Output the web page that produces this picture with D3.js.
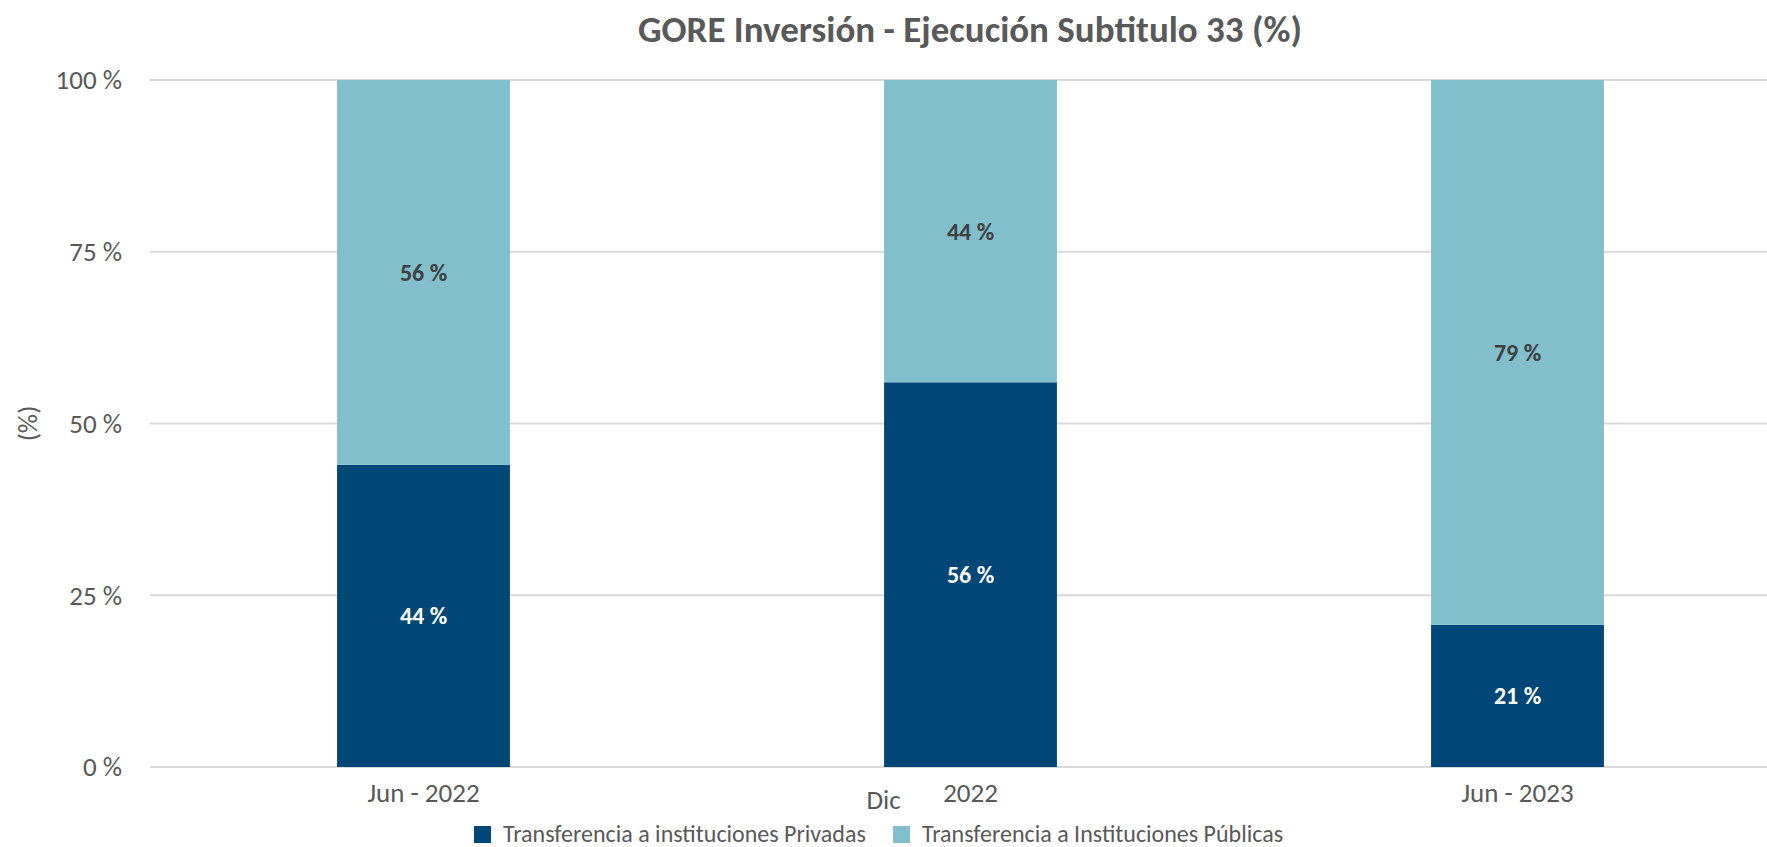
<!DOCTYPE html>
<html>
<head>
<meta charset="utf-8">
<script src="https://cdn.jsdelivr.net/npm/d3@7"></script>
<style>
  body { margin: 0; background: #fff; }
  svg { display: block; font-family: Carlito, "Open Sans", sans-serif; }
</style>
</head>
<body>
<div id="chart"></div>
<script>
// Data
const periods = ["Jun - 2022", "Dic 2022", "Jun - 2023"];
const privadas = [44, 56, 20.7];
const publicas = [56, 44, 79.3];
const seriesNames = ["Transferencia a instituciones Privadas", "Transferencia a Instituciones Públicas"];
const yTicks = [0, 25, 50, 75, 100];

// Dimensions
const width = 1767, height = 847;
const margin = { top: 80, left: 150, bottom: 80 };
const colors = ["#004677", "#81BFCC"];

const svg = d3.select("#chart")
    .append("svg")
    .attr("width", width)
    .attr("height", height);

// Scales
const x = d3.scaleBand().domain(periods).range([margin.left, 1791]).paddingInner(0.684).paddingOuter(0.342);
const y = d3.scaleLinear().domain([0, 100]).range([767, margin.top]);

// Grid lines
svg.append("g")
    .selectAll("line")
    .data(yTicks)
    .enter().append("line")
    .attr("x1", margin.left)
    .attr("x2", width)
    .attr("y1", d => y(d))
    .attr("y2", d => y(d))
    .attr("stroke", "#d9d9d9")
    .attr("stroke-width", 2);

// Y axis labels
svg.append("g")
    .selectAll("text")
    .data(yTicks)
    .enter().append("text")
    .attr("x", 122)
    .attr("y", d => y(d))
    .attr("dy", "0.35em")
    .attr("text-anchor", "end")
    .attr("fill", "#595959")
    .style("font-size", "27px")
    .text(d => d + " %");

svg.append("text")
    .attr("transform", "translate(37," + y(50) + ")rotate(-90)")
    .attr("text-anchor", "middle")
    .attr("fill", "#595959")
    .style("font-size", "27px")
    .text("(%)");

// Stacked bars
const stacked = periods.map((p, i) => ({ period: p, priv: privadas[i], pub: publicas[i] }));

const bars = svg.append("g").selectAll("g")
    .data(stacked)
    .enter().append("g");

bars.append("rect")
    .attr("x", d => x(d.period))
    .attr("width", x.bandwidth())
    .attr("y", d => y(d.priv))
    .attr("height", d => y(0) - y(d.priv))
    .attr("fill", colors[0]);

bars.append("rect")
    .attr("x", d => x(d.period))
    .attr("width", x.bandwidth())
    .attr("y", d => y(d.priv + d.pub))
    .attr("height", d => y(d.priv) - y(d.priv + d.pub))
    .attr("fill", colors[1]);

bars.append("text")
    .attr("x", d => x(d.period) + x.bandwidth() / 2)
    .attr("y", d => y(d.priv / 2))
    .attr("dy", "0.35em")
    .attr("text-anchor", "middle")
    .attr("fill", "#ffffff")
    .style("font-size", "24px")
    .style("font-weight", "bold")
    .text(d => Math.round(d.priv) + " %");

bars.append("text")
    .attr("x", d => x(d.period) + x.bandwidth() / 2)
    .attr("y", d => y(d.priv + d.pub / 2))
    .attr("dy", "0.35em")
    .attr("text-anchor", "middle")
    .attr("fill", "#404040")
    .style("font-size", "24px")
    .style("font-weight", "bold")
    .text(d => Math.round(d.pub) + " %");

// X axis labels (the middle one wraps oddly in the original)
svg.append("g")
    .selectAll("text")
    .data(periods)
    .enter().append("text")
    .attr("x", d => x(d) + x.bandwidth() / 2)
    .attr("y", 802)
    .attr("text-anchor", "middle")
    .attr("fill", "#595959")
    .style("font-size", "27px")
    .text(d => d === "Dic 2022" ? "2022" : d);

svg.append("text")
    .attr("x", x("Dic 2022") + x.bandwidth() / 2 - 87)
    .attr("y", 809)
    .attr("text-anchor", "middle")
    .attr("fill", "#595959")
    .style("font-size", "27px")
    .text("Dic");

// Title
svg.append("text")
    .attr("x", 970)
    .attr("y", 42)
    .attr("text-anchor", "middle")
    .attr("fill", "#595959")
    .style("font-size", "37px")
    .style("font-weight", "bold")
    .text("GORE Inversión - Ejecución Subtitulo 33 (%)");

// Legend
const legendX = [474, 893];
const legend = svg.append("g").selectAll("g")
    .data(seriesNames)
    .enter().append("g")
    .attr("transform", (d, i) => "translate(" + legendX[i] + ",826)");

legend.append("rect")
    .attr("width", 17)
    .attr("height", 17)
    .attr("fill", (d, i) => colors[i]);

legend.append("text")
    .attr("x", 29)
    .attr("y", 8)
    .attr("dy", "0.35em")
    .attr("fill", "#595959")
    .style("font-size", "24px")
    .text(d => d);
</script>
</body>
</html>
